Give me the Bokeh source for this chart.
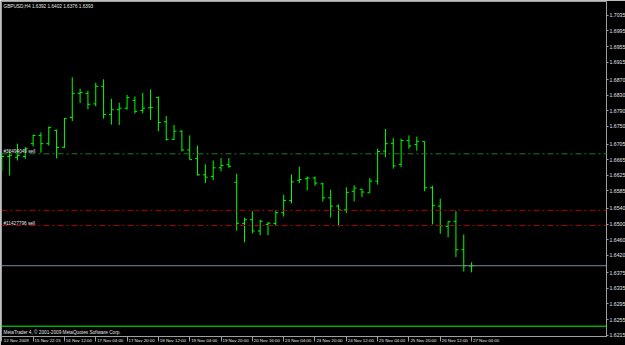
from bokeh.plotting import figure
from bokeh.models import (ColumnDataSource, Range1d, LinearAxis, FixedTicker,
                          PrintfTickFormatter, Span, Label)
from bokeh.embed import file_html
from bokeh.resources import INLINE

# ---------------- data ----------------
chart_title = "GBPUSD,H4  1.6392 1.6402 1.6376 1.6393"
copyright_text = "MetaTrader 4, \u00a9 2001-2009 MetaQuotes Software Corp."

opens = [1.6642, 1.6673, 1.6671, 1.6673, 1.6706, 1.6727, 1.6706, 1.6740, 1.6697, 1.6773,
         1.6835, 1.6835, 1.6808, 1.6853, 1.6781, 1.6793, 1.6797, 1.6817, 1.6791, 1.6798,
         1.6824, 1.6762, 1.6717, 1.6738, 1.6690, 1.6668, 1.6626, 1.6622, 1.6644, 1.6652,
         1.6607, 1.6501, 1.6511, 1.6482, 1.6499, 1.6501, 1.6529, 1.6560, 1.6612, 1.6616,
         1.6618, 1.6603, 1.6567, 1.6546, 1.6536, 1.6584, 1.6589, 1.6580, 1.6610, 1.6687,
         1.6707, 1.6653, 1.6714, 1.6704, 1.6712, 1.6593, 1.6546, 1.6494, 1.6507, 1.6434,
         1.6392]
highs = [1.6683, 1.6686, 1.6706, 1.6697, 1.6729, 1.6735, 1.6750, 1.6742, 1.6772, 1.6876,
         1.6847, 1.6842, 1.6862, 1.6871, 1.6821, 1.6811, 1.6831, 1.6827, 1.6836, 1.6845,
         1.6827, 1.6777, 1.6754, 1.6740, 1.6727, 1.6701, 1.6653, 1.6663, 1.6669, 1.6669,
         1.6629, 1.6516, 1.6533, 1.6511, 1.6505, 1.6535, 1.6575, 1.6627, 1.6647, 1.6622,
         1.6622, 1.6606, 1.6588, 1.6550, 1.6594, 1.6599, 1.6590, 1.6618, 1.6693, 1.6744,
         1.6721, 1.6719, 1.6727, 1.6724, 1.6712, 1.6598, 1.6565, 1.6507, 1.6533, 1.6473,
         1.6402]
lows = [1.6637, 1.6624, 1.6663, 1.6667, 1.6699, 1.6683, 1.6701, 1.6668, 1.6695, 1.6764,
        1.6810, 1.6794, 1.6802, 1.6770, 1.6755, 1.6754, 1.6793, 1.6783, 1.6784, 1.6767,
        1.6738, 1.6714, 1.6716, 1.6686, 1.6665, 1.6624, 1.6605, 1.6613, 1.6635, 1.6644,
        1.6483, 1.6453, 1.6476, 1.6471, 1.6471, 1.6496, 1.6519, 1.6553, 1.6605, 1.6586,
        1.6598, 1.6558, 1.6517, 1.6494, 1.6528, 1.6558, 1.6569, 1.6580, 1.6601, 1.6671,
        1.6642, 1.6646, 1.6693, 1.6688, 1.6584, 1.6499, 1.6475, 1.6466, 1.6415, 1.6378,
        1.6376]
closes = [1.6673, 1.6676, 1.6676, 1.6694, 1.6727, 1.6706, 1.6747, 1.6696, 1.6770, 1.6835,
          1.6837, 1.6807, 1.6853, 1.6781, 1.6793, 1.6797, 1.6824, 1.6789, 1.6797, 1.6799,
          1.6760, 1.6717, 1.6738, 1.6690, 1.6665, 1.6626, 1.6620, 1.6644, 1.6650, 1.6648,
          1.6502, 1.6511, 1.6482, 1.6507, 1.6502, 1.6529, 1.6560, 1.6608, 1.6614, 1.6618,
          1.6605, 1.6567, 1.6546, 1.6536, 1.6581, 1.6592, 1.6582, 1.6610, 1.6686, 1.6706,
          1.6649, 1.6714, 1.6700, 1.6712, 1.6593, 1.6548, 1.6495, 1.6506, 1.6434, 1.6393,
          1.6393]

date_label_bars = [0, 4, 8, 12, 16, 20, 24, 28, 32, 36, 40, 44, 48, 52, 56, 60]
date_labels = ["12 Nov 2009", "15 Nov 22:15", "16 Nov 12:00", "17 Nov 04:00",
               "17 Nov 20:00", "18 Nov 12:00", "19 Nov 04:00", "19 Nov 20:00",
               "20 Nov 16:00", "23 Nov 04:00", "23 Nov 20:00", "24 Nov 12:00",
               "25 Nov 04:00", "25 Nov 20:00", "26 Nov 12:00", "27 Nov 04:00"]

price_ticks = [1.7035, 1.6995, 1.6955, 1.6915, 1.6870, 1.6830, 1.6790, 1.6750,
               1.6705, 1.6665, 1.6625, 1.6585, 1.6540, 1.6500, 1.6460, 1.6420,
               1.6375, 1.6335, 1.6295, 1.6255, 1.6215]

order_open_level = 1.6680
order_open_text = "#36494049 sell"
stop_level = 1.6535
order2_level = 1.6496
order2_text = "#11427796 sell"
bid_price = 1.6393
lime_level = 1.6238

# ---------------- styling ----------------
FONT = "Liberation Sans"
TXT = "#e6e6e6"
FRAME = "#a0a0a0"
BAR = "#00ff00"
TICKW = 0.3          # open/close tick length, in bar units
LABEL_SHIFT = 1.85   # date labels sit to the right of their tick

n = len(opens)
xs = list(range(n))
src = ColumnDataSource(dict(
    x=xs,
    xl=[i - TICKW for i in xs],
    xr=[i + TICKW for i in xs],
    o=opens, h=highs, l=lows, c=closes,
))

p = figure(width=625, height=345, frame_width=605, frame_height=335,
           output_backend="svg", toolbar_location=None,
           x_range=Range1d(-0.038, 77.23), y_range=Range1d(1.621154, 1.707051),
           x_axis_location=None, y_axis_location=None,
           background_fill_color="black", border_fill_color="black",
           min_border_left=1, min_border_top=1, min_border_right=19, min_border_bottom=9)
p.grid.visible = False
p.outline_line_color = FRAME
p.outline_line_width = 1

# OHLC bars
p.segment(x0="x", y0="l", x1="x", y1="h", source=src, line_color=BAR, line_width=1)
p.segment(x0="xl", y0="o", x1="x", y1="o", source=src, line_color=BAR, line_width=1)
p.segment(x0="x", y0="c", x1="xr", y1="c", source=src, line_color=BAR, line_width=1)

# horizontal levels
p.add_layout(Span(location=order_open_level, dimension="width", line_color="#1f7a1f",
                  line_dash="6 3 2 3", line_width=1))
p.add_layout(Span(location=stop_level, dimension="width", line_color="#b00000",
                  line_dash="6 3 2 3", line_width=1))
p.add_layout(Span(location=order2_level, dimension="width", line_color="#b00000",
                  line_dash="6 3 2 3", line_width=1))
p.add_layout(Span(location=bid_price, dimension="width", line_color="#7c8894", line_width=1))
p.add_layout(Span(location=lime_level, dimension="width", line_color="#00ff00", line_width=1))

# texts in chart
SMALL = "4.7px"
p.add_layout(Label(x=2, y=333, x_units="screen", y_units="screen", text=chart_title,
                   text_font=FONT, text_font_size=SMALL, text_color=TXT,
                   text_baseline="top"))
p.add_layout(Label(x=2, y=2, x_units="screen", y_units="screen", text=copyright_text,
                   text_font=FONT, text_font_size=SMALL, text_color=TXT,
                   text_baseline="bottom"))
p.add_layout(Label(x=2, y=order_open_level, x_units="screen", y_units="data",
                   text=order_open_text, text_font=FONT, text_font_size=SMALL,
                   text_color=TXT, text_baseline="bottom"))
p.add_layout(Label(x=2, y=order2_level, x_units="screen", y_units="data",
                   text=order2_text, text_font=FONT, text_font_size=SMALL,
                   text_color=TXT, text_baseline="bottom"))

# price boxes on the scale
p.add_layout(Label(x=77.36, y=bid_price, text="%.4f" % bid_price, text_font=FONT,
                   text_font_size="5.2px", text_color="black", text_baseline="middle",
                   background_fill_color="white", padding=1))
p.add_layout(Label(x=77.36, y=lime_level, text="%.4f" % lime_level, text_font=FONT,
                   text_font_size="5.2px", text_color="black", text_baseline="middle",
                   background_fill_color="#00ff00", padding=1))

# axes
major_pos = [b + LABEL_SHIFT for b in date_label_bars]
xaxis = LinearAxis(ticker=FixedTicker(ticks=major_pos, minor_ticks=date_label_bars),
                   major_label_overrides={pos: lab for pos, lab in zip(major_pos, date_labels)},
                   major_tick_out=0, major_tick_in=0, minor_tick_out=5, minor_tick_in=0,
                   major_label_standoff=-4, major_label_text_font=FONT,
                   major_label_text_font_size="4.4px", major_label_text_color=TXT,
                   axis_line_color=FRAME, minor_tick_line_color=FRAME)
p.add_layout(xaxis, "below")

yaxis = LinearAxis(ticker=FixedTicker(ticks=price_ticks),
                   formatter=PrintfTickFormatter(format="%.4f"),
                   major_tick_out=2, major_tick_in=0, minor_tick_out=0, minor_tick_in=0,
                   major_label_standoff=1, major_label_text_font=FONT,
                   major_label_text_font_size="5.2px", major_label_text_color=TXT,
                   axis_line_color=FRAME, major_tick_line_color=FRAME)
p.add_layout(yaxis, "right")

open("out.html", "w").write(file_html(p, INLINE))
